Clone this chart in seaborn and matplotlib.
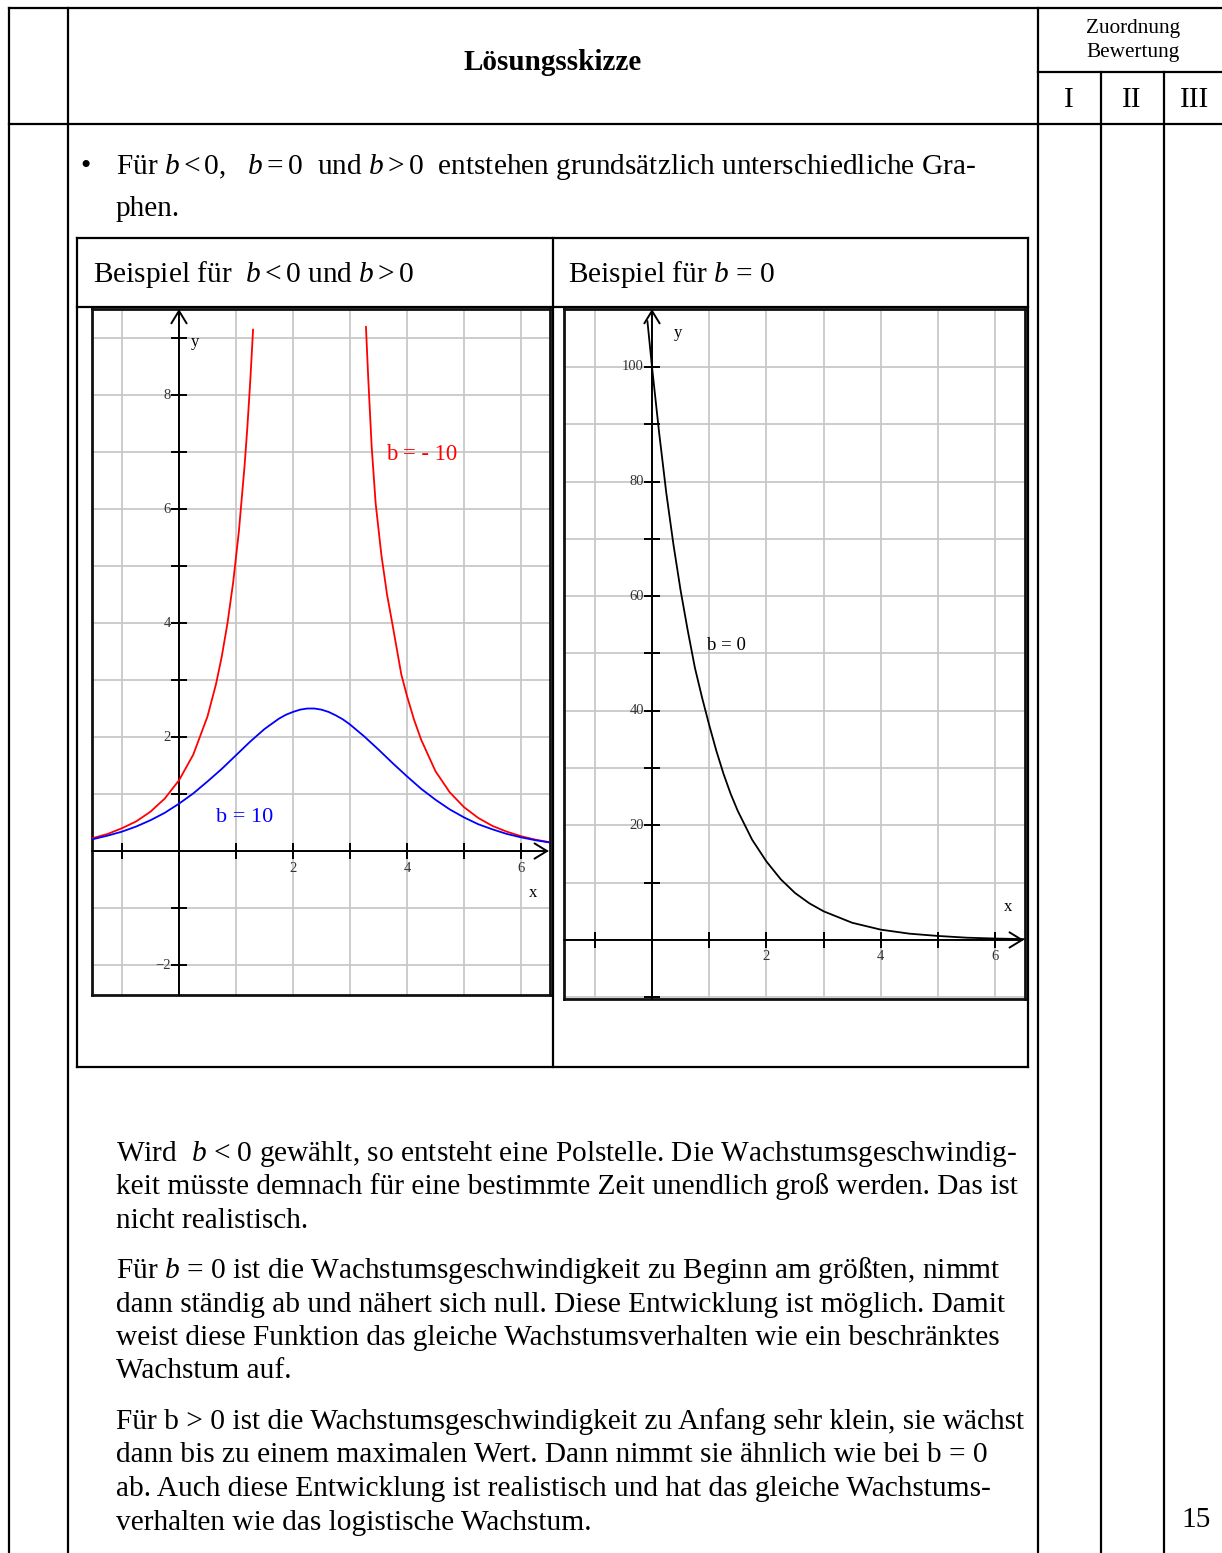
import matplotlib
matplotlib.use('Agg')
import matplotlib.pyplot as plt
import seaborn as sns

# ─── Curve data ───────────────────────────────────────────────────────────────

# b = 10 (blue bell curve)
blue_x = [-1.6, -1.5, -1.25, -1, -0.75, -0.5, -0.25, 0, 0.25, 0.5, 0.75, 1,
          1.25, 1.5, 1.75, 1.875, 2, 2.125, 2.25, 2.375, 2.5, 2.625, 2.75,
          2.875, 3, 3.25, 3.5, 3.75, 4, 4.25, 4.5, 4.75, 5, 5.25, 5.5, 5.75,
          6, 6.25, 6.5, 6.6]
blue_y = [0.19, 0.21, 0.27, 0.34, 0.43, 0.54, 0.67, 0.83, 1.01, 1.22, 1.44,
          1.68, 1.92, 2.14, 2.32, 2.39, 2.44, 2.48, 2.50, 2.50, 2.48, 2.44,
          2.38, 2.31, 2.22, 2.01, 1.78, 1.54, 1.31, 1.09, 0.90, 0.73, 0.59,
          0.47, 0.38, 0.30, 0.24, 0.19, 0.15, 0.13]

# b = -10 (red, pole in between) – left and right branch
red_left_x = [-1.6, -1.5, -1.25, -1, -0.75, -0.5, -0.25, 0, 0.25, 0.5, 0.65,
              0.75, 0.85, 0.95, 1.05, 1.15, 1.2, 1.25, 1.3]
red_left_y = [0.21, 0.23, 0.30, 0.40, 0.52, 0.69, 0.92, 1.24, 1.69, 2.36,
              2.93, 3.41, 3.99, 4.71, 5.60, 6.75, 7.44, 8.24, 9.15]
red_right_x = [3.28, 3.32, 3.38, 3.45, 3.55, 3.65, 3.75, 3.9, 4.0, 4.125,
               4.25, 4.5, 4.75, 5.0, 5.25, 5.5, 5.75, 6.0, 6.25, 6.5, 6.6]
red_right_y = [9.2, 8.3, 7.1, 6.1, 5.2, 4.5, 3.95, 3.1, 2.72, 2.30, 1.95,
               1.40, 1.03, 0.77, 0.58, 0.44, 0.34, 0.26, 0.20, 0.155, 0.14]

# b = 0 (black decay curve)
black_x = [-0.08, 0, 0.125, 0.25, 0.375, 0.5, 0.625, 0.75, 0.875, 1, 1.125,
           1.25, 1.375, 1.5, 1.75, 2, 2.25, 2.5, 2.75, 3, 3.5, 4, 4.5, 5,
           5.5, 6, 6.5]
black_y = [108, 100, 88.5, 78, 69, 61, 54, 47.5, 42.3, 37.5, 33, 29, 25.5,
           22.5, 17.5, 13.7, 10.6, 8.2, 6.4, 5.0, 3.0, 1.8, 1.1, 0.7, 0.4,
           0.25, 0.15]

# ─── Axis labels / ticks ──────────────────────────────────────────────────────

left_xlabels = [2, 4, 6]
left_ylabels = [8, 6, 4, 2, -2]
left_xticks = [-1, 0, 1, 2, 3, 4, 5, 6]
left_yticks = [-2, -1, 1, 2, 3, 4, 5, 6, 7, 8, 9]

right_xlabels = [2, 4, 6]
right_ylabels = [20, 40, 60, 80, 100]
right_xticks = [-1, 0, 1, 2, 3, 4, 5, 6]
right_yticks = [-10, 10, 20, 30, 40, 50, 60, 70, 80, 90, 100]

# ─── Page text ────────────────────────────────────────────────────────────────

bullet_lines = [
    'Für $b<0$,   $b=0$  und $b>0$  entstehen grundsätzlich unterschiedliche Gra-',
    'phen.',
]
para1 = [
    'Wird  $b$ < 0 gewählt, so entsteht eine Polstelle. Die Wachstumsgeschwindig-',
    'keit müsste demnach für eine bestimmte Zeit unendlich groß werden. Das ist',
    'nicht realistisch.',
]
para2 = [
    'Für $b$ = 0 ist die Wachstumsgeschwindigkeit zu Beginn am größten, nimmt',
    'dann ständig ab und nähert sich null. Diese Entwicklung ist möglich. Damit',
    'weist diese Funktion das gleiche Wachstumsverhalten wie ein beschränktes',
    'Wachstum auf.',
]
para3 = [
    'Für b > 0 ist die Wachstumsgeschwindigkeit zu Anfang sehr klein, sie wächst',
    'dann bis zu einem maximalen Wert. Dann nimmt sie ähnlich wie bei b = 0',
    'ab. Auch diese Entwicklung ist realistisch und hat das gleiche Wachstums-',
    'verhalten wie das logistische Wachstum.',
]

W, H = 1222, 1553
BODY = 21.2
GRID = '#c8c8c8'
TICK_TXT = '#333333'

sns.set_style('white')
plt.rcParams['font.family'] = ['Liberation Serif', 'DejaVu Serif']
plt.rcParams['text.color'] = 'black'
plt.rcParams['mathtext.fontset'] = 'custom'
plt.rcParams['mathtext.rm'] = 'Liberation Serif'
plt.rcParams['mathtext.it'] = 'Liberation Serif:italic'
plt.rcParams['mathtext.bf'] = 'Liberation Serif:bold'

fig = plt.figure(figsize=(W / 100, H / 100), dpi=100)
page = fig.add_axes([0, 0, 1, 1])
page.set_xlim(0, W)
page.set_ylim(H, 0)
page.axis('off')


def hline(y, x0, x1, lw=1.6):
    page.plot([x0, x1], [y, y], color='k', lw=lw, solid_capstyle='projecting')


def vline(x, y0, y1, lw=1.6):
    page.plot([x, x], [y0, y1], color='k', lw=lw, solid_capstyle='projecting')


def ptext(x, y, s, size=BODY, **kw):
    # y is the visual centre of the line in pixels -> place on the baseline
    page.text(x, y + 9, s, fontsize=size, va='baseline', **kw)


# ─── Outer table ──────────────────────────────────────────────────────────────

hline(8, 9, W)
hline(124, 9, W)
hline(72, 1038, W)
vline(9, 8, H)
vline(68, 8, H)
vline(1038, 8, H)
vline(1101, 72, H)
vline(1164, 72, H)

page.text(553, 62, 'Lösungsskizze', fontsize=21, fontweight='bold',
          ha='center', va='center')
page.text(1133, 29, 'Zuordnung', fontsize=15.3, ha='center', va='center')
page.text(1133, 53, 'Bewertung', fontsize=15.3, ha='center', va='center')
for cx, s in zip([1069, 1132, 1195], ['I', 'II', 'III']):
    page.text(cx, 100, s, fontsize=BODY, ha='center', va='center')

ptext(80, 165, '•')
ptext(116, 165, bullet_lines[0])
ptext(116, 207, bullet_lines[1])

# ─── Inner table with the two graphs ─────────────────────────────────────────

hline(238, 77, 1028)
hline(307, 77, 1028)
hline(1067, 77, 1028)
vline(77, 238, 1067)
vline(553, 238, 1067)
vline(1028, 238, 1067)

ptext(93, 273, 'Beispiel für  $b<0$ und $b>0$')
ptext(568, 273, 'Beispiel für $b$ = 0')


def add_plot(box, xlim, ylim, xticks, yticks, grid_y):
    x0, y0, x1, y1 = box
    ax = fig.add_axes([x0 / W, 1 - y1 / H, (x1 - x0) / W, (y1 - y0) / H])
    ax.set_xlim(xlim)
    ax.set_ylim(ylim)
    ax.set_xticks(range(-1, 7))
    ax.set_yticks(grid_y)
    ax.tick_params(length=0, labelbottom=False, labelleft=False)
    ax.grid(True, color=GRID, lw=1.3)
    ax.set_axisbelow(True)
    for sp in ax.spines.values():
        sp.set_visible(True)
        sp.set_color('#111111')
        sp.set_linewidth(2)

    arrow = dict(arrowstyle='->,head_length=0.9,head_width=0.55',
                 color='k', lw=1.4, shrinkA=0, shrinkB=0)
    ax.annotate('', xy=(xlim[1] - 0.02, 0), xytext=(xlim[0], 0),
                arrowprops=arrow, annotation_clip=False)
    ax.annotate('', xy=(0, ylim[1]), xytext=(0, ylim[0]),
                arrowprops=arrow, annotation_clip=False)
    ax.plot(xticks, [0] * len(xticks), ls='none', marker='|', ms=12,
            mew=1.4, color='k')
    ax.plot([0] * len(yticks), yticks, ls='none', marker='_', ms=12,
            mew=1.4, color='k')
    return ax


def tick_labels(ax, xl, yl):
    for v in xl:
        ax.annotate(str(v), (v, 0), xytext=(0, -17), textcoords='offset pixels',
                    ha='center', va='center', fontsize=10.5, color=TICK_TXT)
    for v in yl:
        s = str(v) if v >= 0 else '\u2212' + str(-v)
        ax.annotate(s, (0, v), xytext=(-8, 0), textcoords='offset pixels',
                    ha='right', va='center', fontsize=10.5, color=TICK_TXT)


# left graph: b < 0 and b > 0
axl = add_plot((92, 309, 550, 995), (-1.526, 6.509), (-2.526, 9.509),
               left_xticks, left_yticks, range(-2, 10))
sns.lineplot(x=red_left_x, y=red_left_y, ax=axl, color='#ff0000', lw=1.3,
             estimator=None, sort=False, zorder=3)
sns.lineplot(x=red_right_x, y=red_right_y, ax=axl, color='#ff0000', lw=1.3,
             estimator=None, sort=False, zorder=3)
sns.lineplot(x=blue_x, y=blue_y, ax=axl, color='#0000ff', lw=1.3,
             estimator=None, sort=False, zorder=3)
tick_labels(axl, left_xlabels, left_ylabels)
axl.text(0.28, 8.93, 'y', fontsize=12, ha='center', va='center')
axl.text(6.21, -0.74, 'x', fontsize=12, ha='center', va='center')
axl.text(4.26, 6.96, 'b = - 10', fontsize=16.3, color='#ff0000',
         ha='center', va='center')
axl.text(1.16, 0.58, 'b = 10', fontsize=16, color='#0000ff',
         ha='center', va='center')

# right graph: b = 0
axr = add_plot((564, 309, 1025, 999), (-1.538, 6.52), (-10.3, 110.1),
               right_xticks, right_yticks, range(-10, 110, 10))
sns.lineplot(x=black_x, y=black_y, ax=axr, color='k', lw=1.3,
             estimator=None, sort=False, zorder=3)
tick_labels(axr, right_xlabels, right_ylabels)
axr.text(0.45, 105.9, 'y', fontsize=12, ha='center', va='center')
axr.text(6.22, 5.8, 'x', fontsize=12, ha='center', va='center')
axr.text(1.31, 51.3, 'b = 0', fontsize=13.5, ha='center', va='center')

for ax in (axl, axr):
    ax.set_xlabel('')
    ax.set_ylabel('')

# ─── Explanation paragraphs ──────────────────────────────────────────────────

for start, lines in [(1152, para1), (1269, para2), (1420, para3)]:
    for i, s in enumerate(lines):
        ptext(116, start + i * 33.5, s)

page.text(1196, 1520, '15', fontsize=BODY, ha='center', va='center')

fig.savefig('out.png', dpi=100)
